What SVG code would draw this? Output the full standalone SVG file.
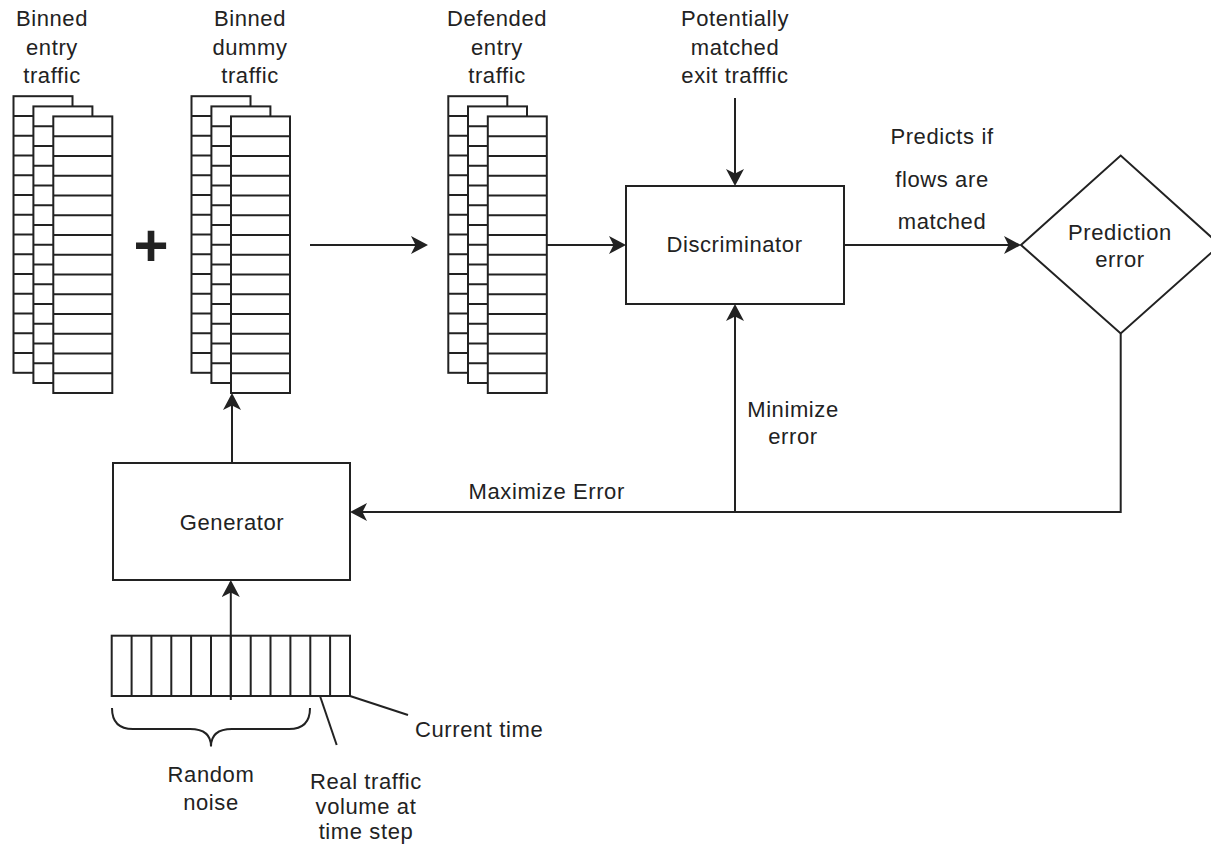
<svg xmlns="http://www.w3.org/2000/svg" xmlns:xlink="http://www.w3.org/1999/xlink" width="1211" height="853" viewBox="0 0 1211 853">
  <style>
    .shape { fill: #ffffff; stroke: #222222; stroke-width: 2; }
    .line { fill: none; stroke: #222222; stroke-width: 2; }
    .arrow { fill: none; stroke: #222222; stroke-width: 2; marker-end: url(#classic); }
    text { font-family: "Liberation Sans", Arial, sans-serif; font-size: 22px; letter-spacing: 0.6px; fill: #222222; text-anchor: middle; }
    .plus { font-size: 60px; font-weight: bold; letter-spacing: 0; }
    .start { text-anchor: start; }
  </style>
  <defs>
    <!-- filled arrowhead with a notched back -->
    <marker id="classic" markerUnits="userSpaceOnUse" markerWidth="18" markerHeight="18" viewBox="0 0 18 18" refX="15" refY="9" orient="auto">
      <path d="M0,0 L17,9 L0,18 L4.5,9 Z" fill="#222222"/>
    </marker>
    <!-- one column of 14 time bins -->
    <g id="col">
      <rect class="shape" x="0" y="0" width="59" height="276.6"/>
      <path class="line" d="M0,19.76 H59 M0,39.52 H59 M0,59.28 H59 M0,79.04 H59 M0,98.8 H59 M0,118.56 H59 M0,138.32 H59 M0,158.08 H59 M0,177.84 H59 M0,197.6 H59 M0,217.36 H59 M0,237.12 H59 M0,256.88 H59"/>
    </g>
  </defs>

  <!-- binned entry traffic -->
  <g id="entry-stack">
    <use xlink:href="#col" x="13.5" y="96.2"/>
    <use xlink:href="#col" x="33.4" y="106.4"/>
    <use xlink:href="#col" x="53.3" y="116.4"/>
    <text x="52" y="26">Binned</text>
    <text x="52" y="54.5">entry</text>
    <text x="52" y="83">traffic</text>
  </g>

  <text id="plus" class="plus" x="151" y="266">+</text>

  <!-- binned dummy traffic -->
  <g id="dummy-stack">
    <use xlink:href="#col" x="191.5" y="96.2"/>
    <use xlink:href="#col" x="211.4" y="106.4"/>
    <use xlink:href="#col" x="231" y="116.4"/>
    <text x="250" y="26">Binned</text>
    <text x="250" y="54.5">dummy</text>
    <text x="250" y="83">traffic</text>
  </g>

  <!-- defended entry traffic -->
  <g id="defended-stack">
    <use xlink:href="#col" x="448.3" y="96.2"/>
    <use xlink:href="#col" x="468" y="106.4"/>
    <use xlink:href="#col" x="487.8" y="116.4"/>
    <text x="497" y="26">Defended</text>
    <text x="497" y="54.5">entry</text>
    <text x="497" y="83">traffic</text>
  </g>

  <g id="exit-label">
    <text x="735" y="26">Potentially</text>
    <text x="735" y="54.5">matched</text>
    <text x="735" y="83">exit trafffic</text>
  </g>

  <g id="discriminator">
    <rect class="shape" x="626" y="186" width="218" height="118"/>
    <text x="734.5" y="252">Discriminator</text>
  </g>

  <g id="prediction-error">
    <polygon class="shape" points="1021,245 1120.7,155.5 1220,245 1120.7,333.5"/>
    <text x="1120" y="239.5">Prediction</text>
    <text x="1120" y="266.5">error</text>
  </g>

  <g id="generator">
    <rect class="shape" x="113" y="463" width="237" height="117"/>
    <text x="232" y="530">Generator</text>
  </g>

  <!-- input vector: noise bins plus the real traffic bin -->
  <g id="input-vector">
    <rect class="shape" x="111.7" y="635.7" width="238.3" height="60.3"/>
    <path class="line" d="M131.6,635.7 V696 M151.4,635.7 V696 M171.3,635.7 V696 M191.1,635.7 V696 M211,635.7 V696 M230.8,635.7 V696 M250.7,635.7 V696 M270.5,635.7 V696 M290.4,635.7 V696 M310.3,635.7 V696 M330.1,635.7 V696"/>
    <path class="line" d="M112,708 Q112,729 133,729 L190,729 Q211,729 211,746.5 Q211,729 232,729 L289,729 Q310,729 310,708"/>
    <path class="line" d="M320,696 L336.7,745"/>
    <path class="line" d="M350,696 L408,715"/>
    <text x="211" y="782">Random</text>
    <text x="211" y="810">noise</text>
    <text x="366" y="789">Real traffic</text>
    <text x="366" y="814">volume at</text>
    <text x="366" y="839">time step</text>
    <text class="start" x="415" y="737">Current time</text>
  </g>

  <g id="connectors">
    <path class="arrow" d="M310,245 H426"/>
    <path class="arrow" d="M547,245 H624"/>
    <path class="arrow" d="M735,98 V184"/>
    <path class="arrow" d="M844,245 H1019"/>
    <path class="arrow" d="M1120.7,333.5 V512 H352"/>
    <path class="arrow" d="M735,512 V306"/>
    <path class="arrow" d="M232,463 V395"/>
    <path class="arrow" d="M230.8,700 V582"/>
    <text x="942" y="143.5">Predicts if</text>
    <text x="942" y="187">flows are</text>
    <text x="942" y="229">matched</text>
    <text x="793" y="417">Minimize</text>
    <text x="793" y="444">error</text>
    <text x="546.7" y="498.5">Maximize Error</text>
  </g>
</svg>
